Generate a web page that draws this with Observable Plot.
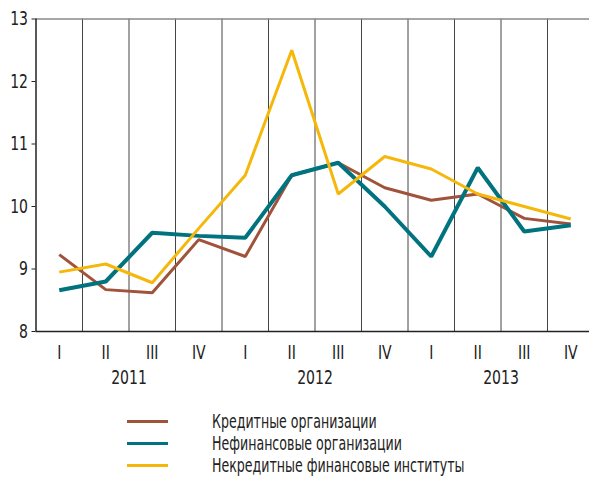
<!DOCTYPE html>
<html><head><meta charset="utf-8">
<script src="https://cdn.jsdelivr.net/npm/d3@7"></script>
<script src="https://cdn.jsdelivr.net/npm/@observablehq/plot@0.6"></script>
<style>
body{margin:0;background:#fff;overflow:hidden;}
#wrap{width:589px;height:480px;overflow:hidden;position:relative;font-family:"DejaVu Sans Condensed","DejaVu Sans",sans-serif;}
#legend{position:absolute;left:0;top:410px;}
.lg{position:absolute;white-space:nowrap;font-size:20px;color:#222;transform:scaleX(0.7);transform-origin:0 50%;}
.sw{position:absolute;height:3px;width:41px;}
</style></head>
<body><div id="wrap"><div id="chart"></div><div id="legend"></div></div>
<script>
const quarters = ["I","II","III","IV","I","II","III","IV","I","II","III","IV"];
const years = ["2011","2012","2013"];
const seriesNames = ["Кредитные организации","Нефинансовые организации","Некредитные финансовые институты"];
const seriesColors = ["#a0523a","#00737f","#f5b80a"];
const seriesWidths = [3,4,3];
const credit   = [9.23,8.67,8.62,9.47,9.2,10.5,10.7,10.3,10.1,10.2,9.81,9.72];
const nonfin   = [8.66,8.8,9.58,9.53,9.5,10.5,10.7,10.0,9.2,10.62,9.6,9.7];
const noncredit= [8.95,9.08,8.78,9.65,10.5,12.5,10.2,10.8,10.6,10.2,10.0,9.8];
const yTicks = [8,9,10,11,12,13];

const seriesVals = [credit, nonfin, noncredit];
const data = seriesVals.flatMap((vals,s)=>vals.map((v,i)=>({i, v, s: seriesNames[s]})));
const qData = quarters.map((q,i)=>({i,q}));
const yData = years.map((y,k)=>({x: k*4+1.5, y}));
const gridX = d3.range(0.5, 11, 1);
const font = `"DejaVu Sans Condensed","DejaVu Sans",sans-serif`;

const chart = Plot.plot({
  width: 594, height: 400,
  marginLeft: 35.5, marginRight: 0.5, marginTop: 18.5, marginBottom: 69,
  style: {fontFamily: font, fontSize: "20px", color: "#222", background: "white", maxWidth: "none", overflow: "hidden"},
  x: {type: "linear", domain: [-0.5, 11.5], axis: null},
  y: {domain: [8, 13], ticks: yTicks, tickSize: 4, tickPadding: 4, label: null, tickFormat: d=>String(d)},
  marks: [
    Plot.ruleX(gridX, {stroke: "#444", strokeWidth: 1}),
    Plot.ruleY([13], {stroke: "#888", strokeWidth: 1.5}),
    ...seriesNames.map((n,s)=>Plot.line(data.filter(d=>d.s===n), {x:"i", y:"v", stroke: seriesColors[s], strokeWidth: seriesWidths[s], strokeLinejoin:"miter", strokeLinecap:"butt"})),
    Plot.ruleX([-0.5], {stroke: "#222", strokeWidth: 1.5}),
    Plot.ruleY([8], {stroke: "#222", strokeWidth: 1.5}),
    Plot.text(qData, {x:"i", y: ()=>8, text:"q", dy: 21, fontSize: 20, fill:"#222"}),
    Plot.text(yData, {x:"x", y: ()=>8, text:"y", dy: 46, fontSize: 20, fill:"#222"})
  ]
});
d3.select(chart).selectAll("text").each(function(){
  const t = this.getAttribute("transform") || "";
  this.setAttribute("transform", t + " scale(0.78,1)");
});
document.getElementById("chart").appendChild(chart);

const lg = document.getElementById("legend");
seriesNames.forEach((n,s)=>{
  const sw = document.createElement("div");
  sw.className="sw"; sw.style.left="127px"; sw.style.top=(10+s*22)+"px"; sw.style.background=seriesColors[s];
  lg.appendChild(sw);
  const t = document.createElement("div");
  t.className="lg"; t.style.left="212px"; t.style.top=(s*22-1)+"px"; t.textContent=n;
  lg.appendChild(t);
});
</script></body></html>
